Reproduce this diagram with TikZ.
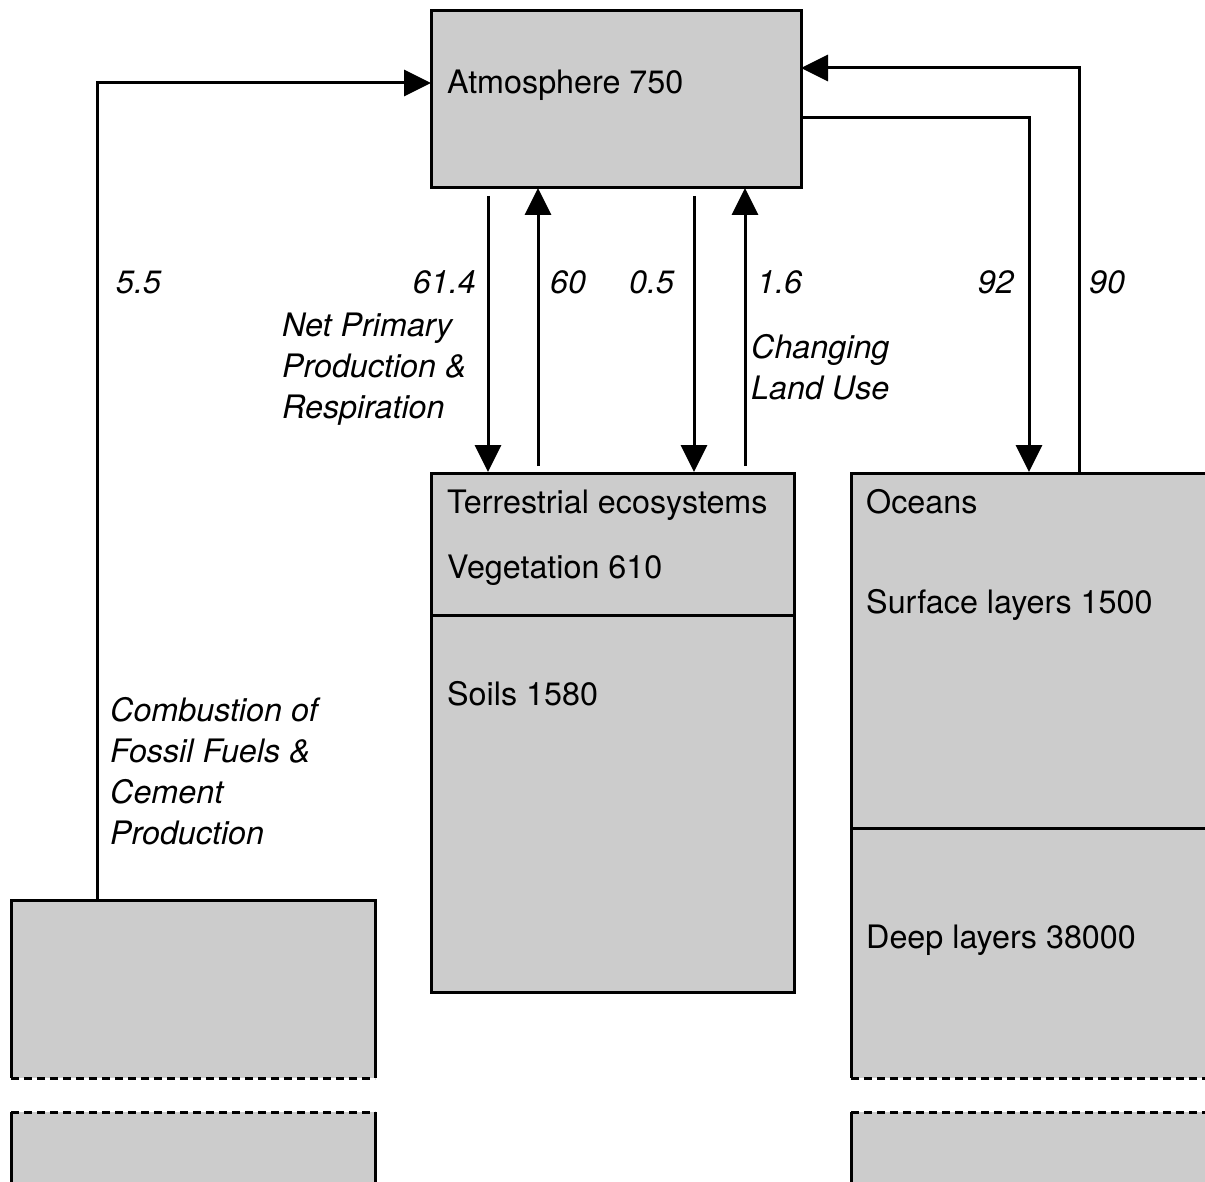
\documentclass[tikz,border=0pt]{standalone}
\usepackage{fontspec}
\setmainfont{TeX Gyre Heros}
\usetikzlibrary{arrows.meta}
\begin{document}
\begin{tikzpicture}[x=1pt,y=-1pt,
  boxfill/.style={fill=black!20, draw=none, inner sep=0pt, outer sep=0pt, anchor=north west},
  edge/.style={line width=3pt},
  dashededge/.style={line width=3pt, dash pattern=on 8pt off 5pt},
  arr/.style={line width=3pt, -{Triangle[length=27pt,width=26pt]}},
  txt/.style={anchor=base west, inner sep=0pt, font=\fontsize{32.3}{41}\selectfont},
  lbl/.style={txt, font=\fontsize{32.3}{41}\selectfont\itshape, align=left},
  lblr/.style={anchor=base east, inner sep=0pt, font=\fontsize{32.3}{41}\selectfont\itshape}]
\useasboundingbox (0,0) rectangle (1205,1182);
\clip (0,0) rectangle (1205,1182);

% boxes (fill)
\node[boxfill, minimum width=370, minimum height=177] (atm) at (431,11) {};
\node[boxfill, minimum width=363, minimum height=519] (ter) at (431,473) {};
\node[boxfill, minimum width=380, minimum height=605] (oce) at (851,473) {};
\node[boxfill, minimum width=380, minimum height=90] (oce2) at (851,1112) {};
\node[boxfill, minimum width=364, minimum height=178] (fos) at (11,900) {};
\node[boxfill, minimum width=364, minimum height=90] (fos2) at (11,1112) {};

% outlines
\draw[edge, line join=miter] (atm.north west) rectangle (atm.south east);
\draw[edge] (ter.north west) rectangle (ter.south east);
\draw[edge] (431,615) -- (794,615);
\draw[edge] (oce.south west) -- (oce.north west) -- (oce.north east);
\draw[dashededge] (oce.south west) -- (oce.south east);
\draw[edge] (851,828) -- (1231,828);
\draw[dashededge] (oce2.north west) -- (oce2.north east);
\draw[edge] (oce2.north west) -- (oce2.south west);
\draw[edge] (fos.south west) -- (fos.north west) -- (fos.north east) -- (fos.south east);
\draw[dashededge] (fos.south west) -- (fos.south east);
\draw[dashededge] (fos2.north west) -- (fos2.north east);
\draw[edge] (fos2.north west) -- (fos2.south west);
\draw[edge] (fos2.north east) -- (fos2.south east);

% box texts
\node[txt] (tatm) at (447,94) {Atmosphere 750};
\node[txt] (tter) at (447,513) {Terrestrial ecosystems};
\node[txt] (tveg) at (447,578) {Vegetation 610};
\node[txt] (tsoil) at (447,705) {Soils 1580};
\node[txt] (toce) at (866,513) {Oceans};
\node[txt] (tsurf) at (866,613) {Surface layers 1500};
\node[txt] (tdeep) at (866,948) {Deep layers 38000};

% connector end points
\coordinate (fa) at (97,900);   \coordinate (fb) at (431,83);
\coordinate (oa) at (1079,472); \coordinate (ob) at (801,68);
\coordinate (ac) at (801,118);  \coordinate (ad) at (1029,472);
\coordinate (n1a) at (488,196); \coordinate (n1b) at (488,472);
\coordinate (n2a) at (538,466); \coordinate (n2b) at (538,188);
\coordinate (l1a) at (694,196); \coordinate (l1b) at (694,472);
\coordinate (l2a) at (745,466); \coordinate (l2b) at (745,188);

\draw[arr] (fa) |- (fb);
\draw[arr] (oa) |- (ob);
\draw[arr] (ac) -| (ad);
\draw[arr] (n1a) -- (n1b);
\draw[arr] (n2a) -- (n2b);
\draw[arr] (l1a) -- (l1b);
\draw[arr] (l2a) -- (l2b);

% labels
\node[lbl] (v55) at (116,294) {5.5};
\node[lblr] (v614) at (476,294) {61.4};
\node[lbl] (v60) at (550,294) {60};
\node[lbl] (v05) at (629,294) {0.5};
\node[lbl] (v16) at (757,294) {1.6};
\node[lblr] (v92) at (1014,294) {92};
\node[lbl] (v90) at (1089,294) {90};
\node[lbl, anchor=north west] (npp) at (282,313) {Net Primary\\Production \&\\Respiration};
\node[lbl, anchor=north west] (clu) at (751,334) {Changing\\Land Use};
\node[lbl, anchor=north west] (comb) at (110,697) {Combustion of\\Fossil Fuels \&\\Cement\\Production};
\end{tikzpicture}
\end{document}
